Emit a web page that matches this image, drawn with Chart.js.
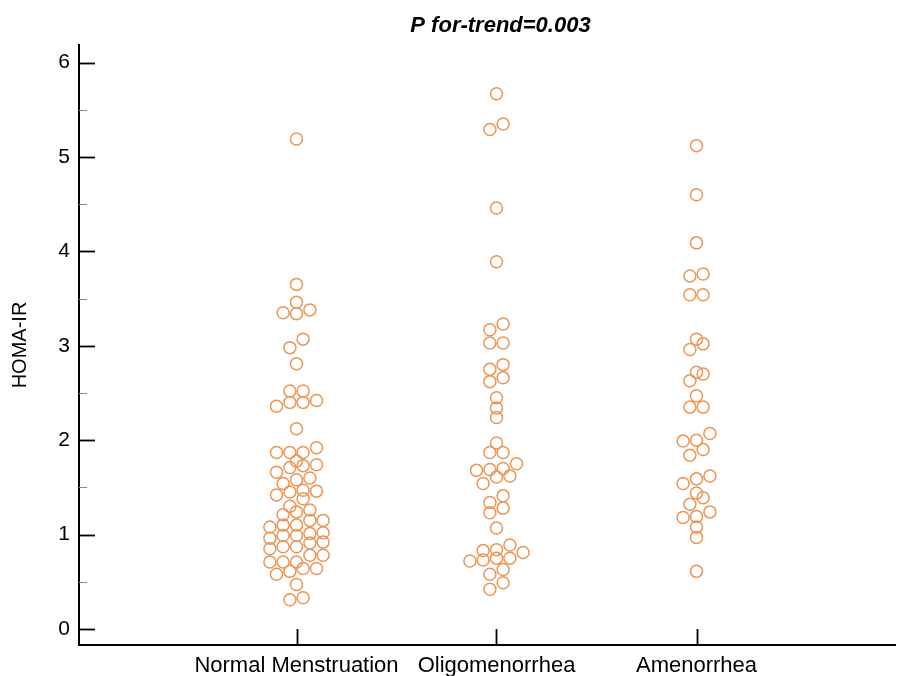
<!DOCTYPE html>
<html lang="en">
<head>
  <meta charset="UTF-8">
  <title>HOMA-IR by menstrual pattern</title>
  <script src="https://cdn.jsdelivr.net/npm/chart.js"></script>
  <style>
    html, body { margin: 0; padding: 0; background: #fff; }
    canvas { display: block; }
  </style>
</head>
<body>

<canvas id="homaChart" width="906" height="676"></canvas>

<script>
  const categories = ['Normal Menstruation', 'Oligomenorrhea', 'Amenorrhea'];
  const yTicks = [0, 1, 2, 3, 4, 5, 6];
  const yMinorTicks = [0.5, 1.5, 2.5, 3.5, 4.5, 5.5];
  const chartTitle = 'P for-trend=0.003';

  // HOMA-IR values, and the horizontal swarm offset of each dot (in category widths)
  const normalValues = [5.19, 3.65, 3.46, 3.35, 3.34, 3.38, 3.07, 2.98, 2.81, 2.52, 2.52, 2.36, 2.40, 2.40, 2.42, 2.12,
    1.87, 1.87, 1.87, 1.92, 1.78, 1.71, 1.73, 1.74, 1.66, 1.58, 1.60, 1.54, 1.45, 1.47, 1.46, 1.42, 1.38, 1.30, 1.24,
    1.26, 1.21, 1.15, 1.15, 1.08, 1.10, 1.10, 1.01, 1.02, 0.96, 0.99, 0.99, 0.91, 0.92, 0.85, 0.87, 0.87, 0.78, 0.78,
    0.71, 0.71, 0.71, 0.61, 0.64, 0.64, 0.58, 0.47, 0.31, 0.33];
  const normalOffsets = [0, 0, 0, -0.067, 0, 0.067, 0.033, -0.033, 0, -0.033, 0.033, -0.1, -0.033, 0.033, 0.1, 0,
    -0.1, -0.033, 0.033, 0.1, 0, -0.033, 0.033, 0.1, -0.1, 0, 0.067, -0.067, -0.033, 0.033, 0.1, -0.1, 0.033, -0.033, 0,
    0.067, -0.067, 0.067, 0.133, -0.133, -0.067, 0, 0.067, 0.133, -0.133, -0.067, 0, 0.067, 0.133, -0.133, -0.067, 0, 0.067, 0.133,
    -0.133, -0.067, 0, -0.033, 0.033, 0.1, -0.1, 0, -0.033, 0.033];

  const oligoValues = [5.67, 5.35, 5.29, 4.46, 3.89, 3.23, 3.17, 3.03, 3.03, 2.80, 2.75, 2.62, 2.66, 2.45, 2.34, 2.24,
    1.97, 1.87, 1.87, 1.68, 1.69, 1.70, 1.75, 1.61, 1.62, 1.54, 1.41, 1.34, 1.28, 1.23, 1.07, 0.89, 0.83, 0.84, 0.81,
    0.72, 0.73, 0.75, 0.75, 0.63, 0.58, 0.49, 0.42];
  const oligoOffsets = [0, 0.033, -0.033, 0, 0, 0.033, -0.033, -0.033, 0.033, 0.033, -0.033, -0.033, 0.033, 0, 0, 0,
    0, -0.033, 0.033, -0.1, -0.033, 0.033, 0.1, 0, 0.067, -0.067, 0.033, -0.033, 0.033, -0.033, 0, 0.067, -0.067, 0, 0.133,
    -0.133, -0.067, 0, 0.067, 0.033, -0.033, 0.033, -0.033];

  const amenValues = [5.12, 4.60, 4.09, 3.74, 3.76, 3.54, 3.54, 3.07, 3.02, 2.96, 2.72, 2.70, 2.63, 2.47, 2.35, 2.35,
    2.07, 1.99, 2.00, 1.90, 1.84, 1.62, 1.59, 1.54, 1.44, 1.39, 1.32, 1.24, 1.18, 1.19, 1.08, 0.97, 0.61];
  const amenOffsets = [0, 0, 0, -0.033, 0.033, -0.033, 0.033, 0, 0.033, -0.033, 0, 0.033, -0.033, 0, -0.033, 0.033,
    0.067, -0.067, 0, 0.033, -0.033, 0.067, 0, -0.067, 0, 0.033, -0.033, 0.067, -0.067, 0, 0, 0, 0];

  const groups = [
    { values: normalValues, offsets: normalOffsets },
    { values: oligoValues, offsets: oligoOffsets },
    { values: amenValues, offsets: amenOffsets }
  ];

  const dotColor = '#EC9555';
  const fontFamily = '"Liberation Sans", Arial, sans-serif';

  const datasets = groups.map((g, i) => ({
    label: categories[i],
    data: g.values.map((v, j) => ({ x: i + 1 + g.offsets[j], y: v })),
    borderColor: dotColor,
    backgroundColor: 'rgba(0,0,0,0)',
    borderWidth: 1.5,
    pointRadius: 6,
    pointHoverRadius: 6
  }));

  // inward tick marks and the title above the middle group
  const decorPlugin = {
    id: 'decor',
    afterDraw(chart) {
      const { ctx, scales: { x, y } } = chart;
      const axisX = chart.chartArea.left;
      const axisY = chart.chartArea.bottom;
      ctx.save();
      ctx.strokeStyle = '#000';
      ctx.lineWidth = 1.8;
      yTicks.forEach(v => {
        const py = Math.round(y.getPixelForValue(v)) + 0.5;
        ctx.beginPath();
        ctx.moveTo(axisX, py);
        ctx.lineTo(axisX + 16, py);
        ctx.stroke();
      });
      categories.forEach((_, i) => {
        const px = Math.round(x.getPixelForValue(i + 1)) + 0.5;
        ctx.beginPath();
        ctx.moveTo(px, axisY);
        ctx.lineTo(px, axisY - 16);
        ctx.stroke();
      });
      ctx.strokeStyle = '#888';
      ctx.lineWidth = 1;
      yMinorTicks.forEach(v => {
        const py = Math.round(y.getPixelForValue(v)) + 0.5;
        ctx.beginPath();
        ctx.moveTo(axisX, py);
        ctx.lineTo(axisX + 8, py);
        ctx.stroke();
      });

      ctx.fillStyle = '#000';
      ctx.font = 'italic bold 22px ' + fontFamily;
      ctx.textAlign = 'center';
      ctx.textBaseline = 'alphabetic';
      ctx.fillText(chartTitle, x.getPixelForValue(2.02), 32);
      ctx.restore();
    }
  };

  const ctx = document.getElementById('homaChart').getContext('2d');

  new Chart(ctx, {
    type: 'scatter',
    data: { datasets },
    plugins: [decorPlugin],
    options: {
      responsive: false,
      animation: false,
      layout: { padding: { top: 45, right: 11, left: 0, bottom: 0 } },
      plugins: {
        legend: { display: false },
        tooltip: { enabled: false },
        title: { display: false }
      },
      elements: { point: { pointStyle: 'circle' } },
      scales: {
        x: {
          type: 'linear',
          min: -0.0875,
          max: 3.9925,
          afterFit: s => { s.height = 31; },
          afterBuildTicks: s => { s.ticks = categories.map((_, i) => ({ value: i + 1 })); },
          grid: { display: true, drawOnChartArea: false, drawTicks: false },
          border: { display: true, color: '#000', width: 2 },
          ticks: {
            autoSkip: false,
            maxRotation: 0,
            padding: 8,
            color: '#000',
            font: { family: fontFamily, size: 22 },
            callback: v => categories[Math.round(v) - 1] || ''
          }
        },
        y: {
          min: -0.17,
          max: 6.186,
          afterFit: s => { s.width = 79; },
          afterBuildTicks: s => { s.ticks = yTicks.map(v => ({ value: v })); },
          grid: { display: true, drawOnChartArea: false, drawTicks: false },
          border: { display: true, color: '#000', width: 2 },
          title: {
            display: true,
            text: 'HOMA-IR',
            color: '#000',
            font: { family: fontFamily, size: 20 },
            padding: { top: 8, bottom: 0 }
          },
          ticks: {
            padding: 9,
            color: '#000',
            font: { family: fontFamily, size: 21 }
          }
        }
      }
    }
  });
</script>

</body>
</html>
